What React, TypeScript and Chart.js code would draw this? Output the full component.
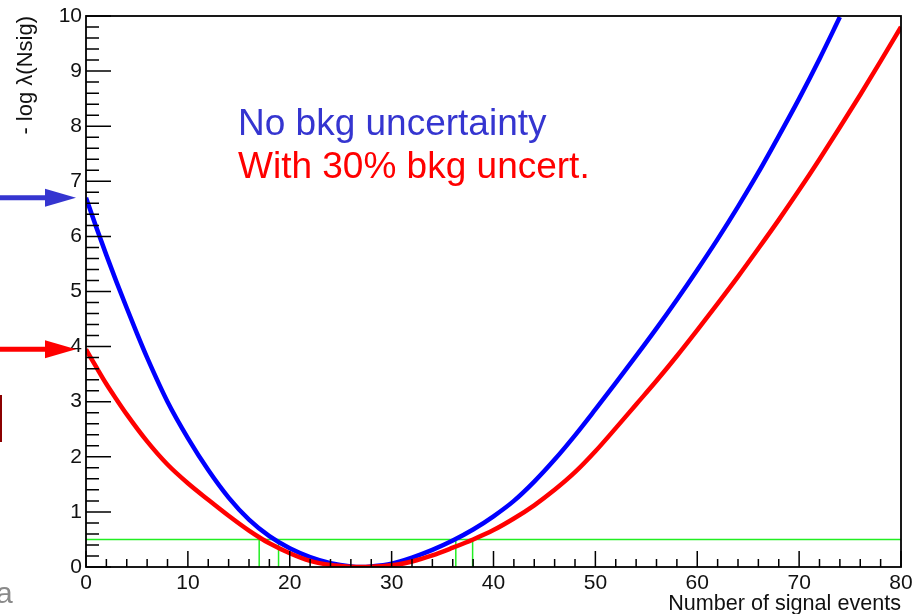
import { useEffect, useRef } from "react";
import { Chart, registerables } from "chart.js";

Chart.register(...registerables);

// Number of signal events sampled along each curve
const nsigNoUnc = [0, 1, 2, 3, 4, 5, 6, 8, 10, 12, 14, 16, 18, 20, 22, 24, 26, 27, 28, 30, 32, 34, 36, 38, 40, 42, 44, 46, 48, 50, 52, 54, 56, 58, 60, 62, 64, 66, 68, 70, 72, 74];
// -log lambda, no background uncertainty
const nllNoUnc = [6.7, 6.17, 5.66, 5.17, 4.7, 4.24, 3.8, 3.0, 2.34, 1.76, 1.26, 0.86, 0.56, 0.34, 0.18, 0.07, 0.01, 0, 0.01, 0.06, 0.17, 0.31, 0.48, 0.68, 0.92, 1.2, 1.55, 1.95, 2.39, 2.86, 3.34, 3.83, 4.33, 4.85, 5.39, 5.95, 6.54, 7.16, 7.82, 8.5, 9.22, 9.98];

const nsigWithUnc = [0, 1, 2, 3, 4, 6, 8, 10, 12, 14, 16, 17, 18, 20, 22, 24, 26, 27, 28, 30, 32, 34, 36, 38, 40, 42, 44, 46, 48, 50, 52, 54, 56, 58, 60, 62, 64, 66, 68, 70, 72, 74, 76, 78, 80];
// -log lambda, 30% background uncertainty
const nllWithUnc = [3.95, 3.63, 3.32, 3.04, 2.77, 2.28, 1.86, 1.52, 1.22, 0.93, 0.66, 0.54, 0.43, 0.25, 0.11, 0.035, 0.005, 0, 0.005, 0.03, 0.1, 0.21, 0.35, 0.5, 0.67, 0.88, 1.12, 1.4, 1.72, 2.1, 2.52, 2.95, 3.38, 3.83, 4.3, 4.78, 5.27, 5.78, 6.3, 6.84, 7.4, 7.98, 8.57, 9.18, 9.8];

// 0.5 unit above the minimum and where each curve crosses it
const threshold = 0.5;
const crossNoUnc = [18.9, 36.3];
const crossWithUnc = [17.0, 37.95];

const xRange = [0, 80];
const yRange = [0, 10];

const FONT = "'Liberation Sans', Arial, Helvetica, sans-serif";
const BLUE = "#0000ff";
const RED = "#ff0000";
const GREEN = "#22ee22";

const pairs = (xs: number[], ys: number[]) => xs.map((x, i) => ({ x, y: ys[i] }));

const frameAndNotes = {
  id: "frameAndNotes",
  afterDatasetsDraw(chart: any) {
    const { ctx, chartArea: a, scales } = chart;
    const x = scales.x;
    const y = scales.y;
    ctx.save();
    ctx.strokeStyle = "#000";
    ctx.lineWidth = 1.5;
    ctx.beginPath();
    // inward tick marks on the left axis
    for (let i = 0; i <= 50; i++) {
      const py = y.getPixelForValue(i * 0.2);
      const len = i % 5 === 0 ? 25 : 13;
      ctx.moveTo(a.left, py);
      ctx.lineTo(a.left + len, py);
    }
    // inward tick marks on the bottom axis
    for (let i = 0; i <= 40; i++) {
      const px = x.getPixelForValue(i * 2);
      const len = i % 5 === 0 ? 16 : 8;
      ctx.moveTo(px, a.bottom);
      ctx.lineTo(px, a.bottom - len);
    }
    ctx.stroke();
    ctx.lineWidth = 1.8;
    ctx.strokeRect(a.left, a.top, a.right - a.left, a.bottom - a.top);
    ctx.restore();
  },
  afterDraw(chart: any) {
    const { ctx, chartArea: a, scales } = chart;
    const y = scales.y;
    ctx.save();

    const arrow = (py: number, color: string) => {
      const tip = a.left - 10;
      ctx.strokeStyle = color;
      ctx.fillStyle = color;
      ctx.lineWidth = 5;
      ctx.beginPath();
      ctx.moveTo(0, py);
      ctx.lineTo(tip - 28, py);
      ctx.stroke();
      ctx.beginPath();
      ctx.moveTo(tip, py);
      ctx.lineTo(tip - 31, py - 9);
      ctx.lineTo(tip - 31, py + 9);
      ctx.closePath();
      ctx.fill();
    };
    arrow(y.getPixelForValue(nllNoUnc[0]), "#3535d0");
    arrow(y.getPixelForValue(nllWithUnc[0]), RED);

    ctx.fillStyle = "#8b0000";
    ctx.fillRect(0, 395, 2, 47);

    ctx.fillStyle = "#8a8a8a";
    ctx.font = `30px ${FONT}`;
    ctx.textBaseline = "alphabetic";
    ctx.fillText("a", -4, 603);

    ctx.font = `37px ${FONT}`;
    ctx.fillStyle = "#3535d0";
    ctx.fillText("No bkg uncertainty", 238, 135);
    ctx.fillStyle = RED;
    ctx.fillText("With 30% bkg uncert.", 238, 178);
    ctx.restore();
  },
};

export default function App() {
  const canvasRef = useRef<HTMLCanvasElement | null>(null);

  useEffect(() => {
    const canvas = canvasRef.current;
    if (!canvas) return;
    const tickFont = { family: FONT, size: 21, lineHeight: 1.2 };
    const chart = new Chart(canvas, {
      type: "line",
      data: {
        datasets: [
          {
            label: "With 30% bkg uncert.",
            data: pairs(nsigWithUnc, nllWithUnc),
            borderColor: RED,
            borderWidth: 4.5,
            pointRadius: 0,
            cubicInterpolationMode: "monotone",
          },
          {
            label: "No bkg uncertainty",
            data: pairs(nsigNoUnc, nllNoUnc),
            borderColor: BLUE,
            borderWidth: 4.5,
            pointRadius: 0,
            cubicInterpolationMode: "monotone",
          },
          {
            label: "threshold",
            data: [
              { x: xRange[0], y: threshold },
              { x: xRange[1], y: threshold },
            ],
            borderColor: GREEN,
            borderWidth: 1.5,
            pointRadius: 0,
          },
          ...[...crossNoUnc, ...crossWithUnc].map((c) => ({
            label: "crossing",
            data: [
              { x: c, y: 0 },
              { x: c, y: threshold },
            ],
            borderColor: GREEN,
            borderWidth: 1.5,
            pointRadius: 0,
          })),
        ],
      },
      options: {
        responsive: false,
        animation: false,
        devicePixelRatio: 1,
        layout: { padding: { top: 16, right: 11, left: 0, bottom: 0 } },
        plugins: { legend: { display: false }, tooltip: { enabled: false } },
        scales: {
          x: {
            type: "linear",
            min: xRange[0],
            max: xRange[1],
            grid: { display: false, drawTicks: false },
            border: { display: false },
            ticks: { stepSize: 10, font: tickFont, color: "#111", padding: 4, maxRotation: 0 },
            title: {
              display: true,
              text: "Number of signal events",
              align: "end",
              font: { family: FONT, size: 21.6, lineHeight: 1 },
              color: "#111",
              padding: { top: 0, bottom: -1 },
            },
            afterFit: (s: any) => {
              s.height = 47;
              s.paddingLeft = 0;
              s.paddingRight = 0;
            },
          },
          y: {
            type: "linear",
            min: yRange[0],
            max: yRange[1],
            grid: { display: false, drawTicks: false },
            border: { display: false },
            ticks: { stepSize: 1, font: tickFont, color: "#111", padding: 4 },
            title: {
              display: true,
              text: "- log \u03bb(Nsig)",
              align: "end",
              font: { family: FONT, size: 22, lineHeight: 1 },
              color: "#111",
              padding: { top: 15, bottom: 0 },
            },
            afterFit: (s: any) => {
              s.width = 86;
              s.paddingTop = 0;
              s.paddingBottom = 0;
            },
          },
        },
      } as any,
      plugins: [frameAndNotes],
    });
    return () => chart.destroy();
  }, []);

  return (
    <div style={{ position: "absolute", left: 0, top: 0, width: 912, height: 614, background: "#fff" }}>
      <canvas ref={canvasRef} width={912} height={614} style={{ display: "block" }} />
    </div>
  );
}
